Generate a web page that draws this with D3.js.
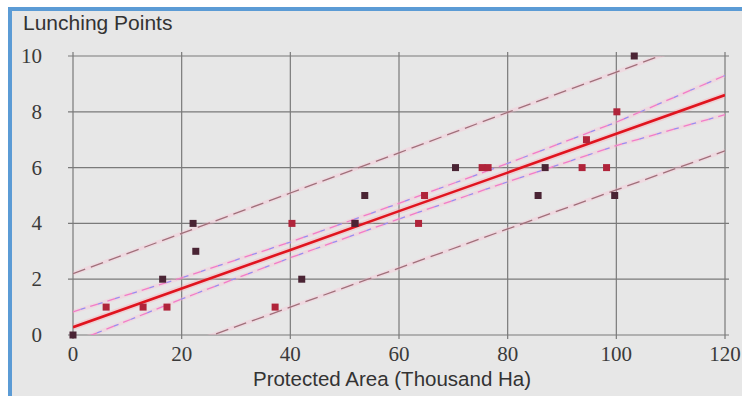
<!DOCTYPE html>
<html>
<head>
<meta charset="utf-8">
<script src="https://cdn.jsdelivr.net/npm/d3@7"></script>
<style>
  body { margin: 0; background: #ffffff; }
  svg { display: block; }
</style>
</head>
<body>
<svg id="graf" width="742" height="396"></svg>
<script>
// data
var xTicks = [0, 20, 40, 60, 80, 100, 120]
var yTicks = [0, 2, 4, 6, 8, 10]

// points: x (thousand ha), y (lunching points), group 0 = dark, 1 = red
var bodyX = [0, 6.1, 12.9, 16.5, 17.3, 22.1, 22.6, 37.2, 40.3, 42.1, 51.9, 51.9, 53.7, 63.6, 64.7, 70.4, 75.3, 76.4, 85.6, 86.9, 93.7, 94.5, 98.2, 99.7, 100.1, 103.3]
var bodyY = [0, 1, 1, 2, 1, 4, 3, 1, 4, 2, 4, 4, 5, 4, 5, 6, 6, 6, 5, 6, 6, 7, 6, 5, 8, 10]
var skupina = [0, 1, 1, 0, 1, 0, 0, 1, 1, 0, 1, 0, 0, 1, 1, 0, 1, 1, 0, 0, 1, 1, 1, 0, 1, 0]

// regression line and bands, sampled at these x
var pasX = [0, 20, 40, 60, 80, 100, 120]
var fit = [0.28, 1.67, 3.05, 4.44, 5.82, 7.21, 8.60]
var confHorni = [0.83, 2.05, 3.33, 4.72, 6.15, 7.63, 9.30]
var confDolni = [-0.27, 1.29, 2.77, 4.16, 5.49, 6.79, 7.90]
var predHorni = [2.20, 3.64, 5.09, 6.53, 7.98, 9.42, 10.87]
var predDolni = [-1.80, -0.40, 1.00, 2.40, 3.80, 5.20, 6.60]

var Svg = d3.select("#graf")

// background + blue frame
Svg.append("rect").attr("x", 8).attr("y", 7).attr("width", 734).attr("height", 389).attr("fill", "#e7e7e7")
Svg.append("rect").attr("x", 8).attr("y", 7).attr("width", 734).attr("height", 4).attr("fill", "#5b9bd5")
Svg.append("rect").attr("x", 8).attr("y", 7).attr("width", 4).attr("height", 389).attr("fill", "#5b9bd5")

var x = d3.scaleLinear().domain([0, 120]).range([73, 725])
var y = d3.scaleLinear().domain([0, 10]).range([335, 56])

// grid
var mrizka = Svg.append("g")
mrizka.selectAll("line.h").data(yTicks).enter().append("line")
  .attr("class", "h")
  .attr("x1", x(0) - 5).attr("x2", x(120) + 4)
  .attr("y1", function(d){ return y(d) }).attr("y2", function(d){ return y(d) })
  .attr("stroke", "#7a7a7a").attr("stroke-width", 1.2)
mrizka.selectAll("line.v").data(xTicks).enter().append("line")
  .attr("class", "v")
  .attr("y1", y(10) - 4).attr("y2", y(0) + 4)
  .attr("x1", function(d){ return x(d) }).attr("x2", function(d){ return x(d) })
  .attr("stroke", "#7a7a7a").attr("stroke-width", 1.2)

// tick labels (serif)
Svg.append("g").selectAll("text").data(yTicks).enter().append("text")
  .attr("x", 42).attr("y", function(d){ return y(d) + 7 })
  .attr("text-anchor", "end")
  .style("font-family", "'Liberation Serif', 'DejaVu Serif', serif").style("font-size", "21px")
  .attr("fill", "#3a3a3a")
  .text(function(d){ return d })

Svg.append("g").selectAll("text").data(xTicks).enter().append("text")
  .attr("x", function(d){ return x(d) }).attr("y", 361)
  .attr("text-anchor", "middle")
  .style("font-family", "'Liberation Serif', 'DejaVu Serif', serif").style("font-size", "21px")
  .attr("fill", "#3a3a3a")
  .text(function(d){ return d })

// axis titles
Svg.append("text").attr("x", 23).attr("y", 30)
  .style("font-family", "'Liberation Sans', Arial, sans-serif").style("font-size", "21px")
  .attr("fill", "#333").text("Lunching Points")
Svg.append("text").attr("x", 392).attr("y", 386).attr("text-anchor", "middle")
  .style("font-family", "'Liberation Sans', Arial, sans-serif").style("font-size", "20.5px")
  .attr("fill", "#333").text("Protected Area (Thousand Ha)")

// clip for the lines
Svg.append("clipPath").attr("id", "oriz").append("rect")
  .attr("x", x(0)).attr("y", y(10)).attr("width", x(120) - x(0)).attr("height", y(0) - y(10))

var cary = Svg.append("g").attr("clip-path", "url(#oriz)")

function cara(hodnoty) {
  return d3.line()
    .x(function(d, i){ return x(pasX[i]) })
    .y(function(d){ return y(d) })(hodnoty)
}

// faint pink halo under the lines (as in the picture)
;[predHorni, predDolni, confHorni, confDolni].forEach(function(h) {
  cary.append("path").attr("d", cara(h)).attr("fill", "none")
    .attr("stroke", "#ffb8d0").attr("stroke-width", 4).attr("stroke-opacity", 0.3)
})
cary.append("path").attr("d", cara(fit)).attr("fill", "none")
  .attr("stroke", "#ff9aaa").attr("stroke-width", 6).attr("stroke-opacity", 0.3)

// prediction band
;[predHorni, predDolni].forEach(function(h) {
  cary.append("path").attr("d", cara(h)).attr("fill", "none")
    .attr("stroke", "#a0707a").attr("stroke-width", 1.3)
    .attr("stroke-dasharray", "13,6")
})

// confidence band: pink dashes with a blue bit
;[confHorni, confDolni].forEach(function(h) {
  cary.append("path").attr("d", cara(h)).attr("fill", "none")
    .attr("stroke", "#f27cc8").attr("stroke-width", 1.3)
    .attr("stroke-dasharray", "8,10")
  cary.append("path").attr("d", cara(h)).attr("fill", "none")
    .attr("stroke", "#9a8cf0").attr("stroke-width", 1.3)
    .attr("stroke-dasharray", "5,13").attr("stroke-dashoffset", 10)
})

// regression line
cary.append("path").attr("d", cara(fit)).attr("fill", "none")
  .attr("stroke", "#e0141e").attr("stroke-width", 2.6)

// points
var barvy = ["#4a2434", "#b0243a"]
Svg.append("g").selectAll("rect").data(bodyX).enter().append("rect")
  .attr("x", function(d){ return x(d) - 3.5 })
  .attr("y", function(d, i){ return y(bodyY[i]) - 3.5 })
  .attr("width", 7).attr("height", 7)
  .attr("fill", function(d, i){ return barvy[skupina[i]] })
</script>
</body>
</html>
